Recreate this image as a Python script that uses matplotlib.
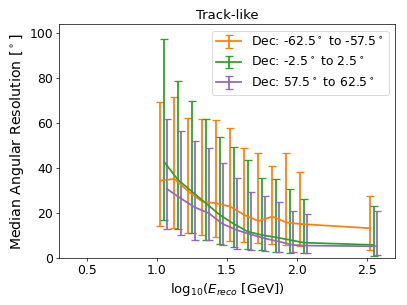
import matplotlib
matplotlib.use("Agg")
import matplotlib.pyplot as plt
import numpy as np

bin_centers = [1.05, 1.15, 1.25, 1.35, 1.45, 1.55, 1.65, 1.75, 1.85, 1.95, 2.05, 2.55]

labels = [r"Dec: -62.5$^\circ$ to -57.5$^\circ$",
          r"Dec: -2.5$^\circ$ to 2.5$^\circ$",
          r"Dec: 57.5$^\circ$ to 62.5$^\circ$"]
colors = ["tab:orange", "tab:green", "tab:purple"]
offsets = [-0.025, 0.0, 0.02]

south_median = [34.4, 35.1, 29.5, 25.0, 24.3, 22.8, 19.1, 16.4, 18.4, 15.8, 15.1, 13.2]
south_upper = [69.2, 71.4, 62.1, 61.6, 61.3, 57.9, 48.9, 46.7, 41.0, 46.5, 38.1, 27.7]
south_lower = [14.2, 13.2, 11.2, 10.3, 9.3, 7.7, 7.0, 6.5, 6.2, 5.8, 5.5, 3.5]

equator_median = [42.8, 34.7, 29.5, 24.3, 19.1, 15.1, 11.7, 10.2, 9.2, 8.0, 6.8, 5.8]
equator_upper = [97.2, 78.8, 69.9, 61.5, 53.9, 49.5, 43.6, 35.4, 35.1, 30.5, 26.1, 23.1]
equator_lower = [16.9, 12.9, 11.0, 8.0, 6.2, 5.0, 3.9, 3.6, 2.8, 2.4, 2.1, 0.9]

north_median = [30.7, 26.5, 22.5, 19.9, 15.1, 12.4, 10.5, 8.7, 7.3, 5.8, 5.5, 5.2]
north_upper = [61.8, 56.3, 52.0, 48.7, 42.1, 35.4, 29.5, 27.7, 24.7, 20.7, 19.6, 20.7]
north_lower = [12.9, 10.2, 8.0, 8.0, 5.8, 4.1, 3.6, 3.3, 2.8, 2.5, 2.2, 1.3]

series = [(south_median, south_lower, south_upper),
          (equator_median, equator_lower, equator_upper),
          (north_median, north_lower, north_upper)]

DPI = 63.6
plt.rcParams["font.size"] = 14
fig = plt.figure(figsize=(6.4, 4.8), dpi=DPI)
ax = fig.add_axes([0.145, 0.154, 0.825, 0.765])

for (med, lo, hi), lab, col, off in zip(series, labels, colors, offsets):
    x = np.array(bin_centers) + off
    med = np.array(med)
    yerr = [med - np.array(lo), np.array(hi) - med]
    ax.errorbar(x, med, yerr=yerr, color=col, label=lab, lw=2,
                elinewidth=2, capsize=5, capthick=1.5)

ax.set_xlim(0.3, 2.7)
ax.set_ylim(0, 103.7)
ax.set_xticks([0.5, 1.0, 1.5, 2.0, 2.5])
ax.set_yticks([0, 20, 40, 60, 80, 100])
ax.tick_params(labelsize=14)
ax.set_xlabel(r"log$_{10}$($E_{reco}$ [GeV])", fontsize=15)
ax.set_ylabel(r"Median Angular Resolution [$^\circ$]", fontsize=16)
ax.set_title("Track-like", fontsize=15)
ax.legend(loc="upper right", fontsize=14, labelspacing=0.6)

fig.savefig("out.png", dpi=DPI)
